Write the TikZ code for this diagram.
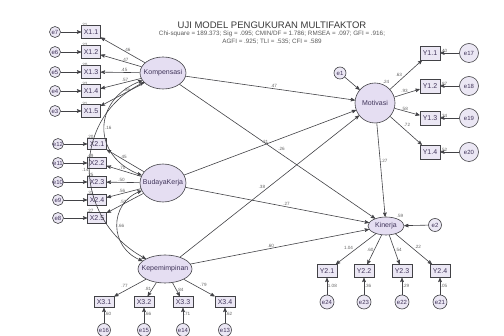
\documentclass[tikz,border=0pt]{standalone}
\usepackage{fontspec}
\setmainfont{Liberation Sans}
\usepackage{tikz}
\usetikzlibrary{arrows,shapes.geometric}
\definecolor{latfill}{RGB}{229,222,242}
\definecolor{obsfill}{RGB}{235,231,244}
\definecolor{linegray}{RGB}{66,66,70}
\definecolor{labgray}{RGB}{100,100,100}
\definecolor{nametext}{RGB}{64,52,90}

\begin{document}
\begin{tikzpicture}[->,>=stealth',semithick,x=1pt,y=-1pt,color=linegray]
  \tikzstyle{every node}=[text=nametext,font=\fontsize{7}{8}\selectfont]
  \tikzstyle{tight}=[execute at begin node={\hbox to 0pt\bgroup\hss},
                     execute at end node={\hss\egroup}]
  \tikzstyle{latent}=[ellipse,draw,fill=latfill,inner sep=0pt,tight]
  \tikzstyle{obs}=[rectangle,draw,fill=obsfill,inner sep=0pt,
                   minimum width=19pt,minimum height=12pt]
  \tikzstyle{err}=[circle,draw,fill=obsfill,inner sep=0pt,tight,
                   minimum size=11pt,font=\fontsize{6}{7}\selectfont]
  \tikzstyle{lb}=[text=labgray,inner sep=.6pt,font=\fontsize{4.6}{5}\selectfont]
  \tikzstyle{rleft}=[lb,pos=1,anchor=south,xshift=3pt,yshift=5pt]
  \tikzstyle{cov}=[<->]

  \useasboundingbox (0,0) rectangle (504,336);

  \node[text=black!78,font=\fontsize{9.5}{11}\selectfont] (title) at (272,25)
       {UJI MODEL PENGUKURAN MULTIFAKTOR};
  \node[text=black!65,font=\fontsize{6.3}{8}\selectfont,align=center] (fit) at (272,38)
       {Chi-square = 189.373; Sig = .095; CMIN/DF = 1.786; RMSEA = .097; GFI = .916;\\
        AGFI = .925; TLI = .535; CFI = .589};

  \node[latent,minimum width=46pt,minimum height=32pt] (Komp)   at (163,73)  {Kompensasi};
  \node[latent,minimum width=46pt,minimum height=38pt] (Budaya) at (163,183) {BudayaKerja};
  \node[latent,minimum width=54pt,minimum height=28pt] (Kepem)  at (165,269) {Kepemimpinan};
  \node[latent,minimum width=40pt,minimum height=40pt] (Mot)    at (375,103) {Motivasi};
  \node[latent,minimum width=36pt,minimum height=18pt] (Kin)    at (386,226) {Kinerja};

  \node[obs,minimum height=13pt] (x11) at (91,32)  {X1.1};
  \node[obs,minimum height=13pt] (x12) at (91,52)  {X1.2};
  \node[obs,minimum height=13pt] (x13) at (91,72)  {X1.3};
  \node[obs,minimum height=13pt] (x14) at (91,91)  {X1.4};
  \node[obs,minimum height=13pt] (x15) at (91,111) {X1.5};
  \node[err] (e7) at (55,32)  {e7};
  \node[err] (e6) at (55,52)  {e6};
  \node[err] (e5) at (55,72)  {e5};
  \node[err] (e4) at (55,91)  {e4};
  \node[err] (e3) at (55,111) {e3};

  \node[obs,minimum height=11pt] (x21) at (97,144) {X2.1};
  \node[obs,minimum height=11pt] (x22) at (97,163) {X2.2};
  \node[obs,minimum height=11pt] (x23) at (97,182) {X2.3};
  \node[obs,minimum height=11pt] (x24) at (97,200) {X2.4};
  \node[obs,minimum height=11pt] (x25) at (97,218) {X2.5};
  \node[err] (e12) at (58,144) {e12};
  \node[err] (e11) at (58,163) {e11};
  \node[err] (e10) at (58,182) {e10};
  \node[err] (e9)  at (58,200) {e9};
  \node[err] (e8)  at (58,218) {e8};

  \node[obs,minimum width=20pt,minimum height=11pt] (x31) at (104,302) {X3.1};
  \node[obs,minimum width=20pt,minimum height=11pt] (x32) at (144,302) {X3.2};
  \node[obs,minimum width=20pt,minimum height=11pt] (x33) at (183,302) {X3.3};
  \node[obs,minimum width=20pt,minimum height=11pt] (x34) at (225,302) {X3.4};
  \node[err,minimum size=13pt] (e16) at (104,330) {e16};
  \node[err,minimum size=13pt] (e15) at (144,330) {e15};
  \node[err,minimum size=13pt] (e14) at (183,330) {e14};
  \node[err,minimum size=13pt] (e13) at (225,330) {e13};

  \node[obs,minimum width=20pt,minimum height=14pt] (y11) at (430,53)  {Y1.1};
  \node[obs,minimum width=20pt,minimum height=14pt] (y12) at (430,86)  {Y1.2};
  \node[obs,minimum width=20pt,minimum height=14pt] (y13) at (430,118) {Y1.3};
  \node[obs,minimum width=20pt,minimum height=14pt] (y14) at (430,152) {Y1.4};
  \node[err,minimum size=19pt] (e17) at (469,53)  {e17};
  \node[err,minimum size=19pt] (e18) at (469,86)  {e18};
  \node[err,minimum size=19pt] (e19) at (469,118) {e19};
  \node[err,minimum size=19pt] (e20) at (469,152) {e20};
  \node[err,minimum size=12pt] (e1)  at (340,73)  {e1};
  \node[err,minimum size=13pt] (e2)  at (435,225) {e2};

  \node[obs,minimum width=20pt,minimum height=13pt] (y21) at (327,271) {Y2.1};
  \node[obs,minimum width=20pt,minimum height=13pt] (y22) at (364,271) {Y2.2};
  \node[obs,minimum width=20pt,minimum height=13pt] (y23) at (402,271) {Y2.3};
  \node[obs,minimum width=20pt,minimum height=13pt] (y24) at (440,271) {Y2.4};
  \node[err,minimum size=14pt] (e24) at (327,302) {e24};
  \node[err,minimum size=14pt] (e23) at (364,302) {e23};
  \node[err,minimum size=14pt] (e22) at (402,302) {e22};
  \node[err,minimum size=14pt] (e21) at (440,302) {e21};

  \node[lb,anchor=south west] (rMot) at (Mot.70) {.24};
  \node[lb,anchor=south,xshift=1pt,yshift=1pt] (rKin) at (Kin.north east) {.59};

  \path (e7) edge node[rleft] {.21} (x11)
        (e6) edge node[rleft] {.22} (x12)
        (e5) edge node[rleft] {.20} (x13)
        (e4) edge node[rleft] {.32} (x14)
        (e3) edge node[rleft] {.31} (x15)
        (Komp) edge node[lb,pos=.4,above] {.46} (x11)
               edge node[lb,pos=.4,above] {.47} (x12)
               edge node[lb,pos=.4,above] {.45} (x13)
               edge node[lb,pos=.4,above] {.57} (x14)
               edge node[lb,pos=.4,above] {.56} (x15);

  \path (e12) edge node[rleft] {.20} (x21)
        (e11) edge node[rleft] {.49} (x22)
        (e10) edge node[rleft] {.25} (x23)
        (e9)  edge node[rleft] {.31} (x24)
        (e8)  edge node[rleft] {.27} (x25)
        (Budaya) edge node[lb,pos=.55,above] {.45} (x21)
                 edge node[lb,pos=.55,above] {.70} (x22)
                 edge node[lb,pos=.55,above] {.50} (x23)
                 edge node[lb,pos=.55,above] {.56} (x24)
                 edge node[lb,pos=.55,above] {.52} (x25);

  \path (Kepem) edge node[lb,pos=.55,above left] {.77} (x31)
                edge node[lb,pos=.5,left] {.81} (x32)
                edge node[lb,pos=.5,right] {.84} (x33)
                edge node[lb,pos=.5,above right] {.79} (x34)
        (e16) edge node[lb,pos=.6,right] {.60} (x31)
        (e15) edge node[lb,pos=.6,right] {.66} (x32)
        (e14) edge node[lb,pos=.6,right] {.71} (x33)
        (e13) edge node[lb,pos=.6,right] {.62} (x34);

  \path (Mot) edge node[lb,pos=.4,above left] {.63} (y11)
              edge node[lb,pos=.4,above] {.93} (y12)
              edge node[lb,pos=.4,above] {.58} (y13)
              edge node[lb,pos=.4,above right] {.72} (y14)
        (e17) edge node[lb,pos=.8,above] {.40} (y11)
        (e18) edge node[lb,pos=.8,above] {.87} (y12)
        (e19) edge node[lb,pos=.8,above] {.34} (y13)
        (e20) edge node[lb,pos=.8,above] {.52} (y14)
        (e1) edge (Mot);

  \path (Kin) edge node[lb,pos=.55,above left] {1.04} (y21)
              edge node[lb,pos=.5,left] {.60} (y22)
              edge node[lb,pos=.5,right] {.54} (y23)
              edge node[lb,pos=.5,above right] {.22} (y24)
        (e24) edge node[lb,pos=.5,right] {1.08} (y21)
        (e23) edge node[lb,pos=.5,right] {.36} (y22)
        (e22) edge node[lb,pos=.5,right] {.29} (y23)
        (e21) edge node[lb,pos=.5,right] {.05} (y24)
        (e2) edge (Kin);

  \path (Komp) edge node[lb,pos=.52,above] {.47} (Mot)
               edge node[lb,pos=.5,above right] {.26} (Kin)
        (Budaya) edge node[lb,pos=.47,above] {.31} (Mot)
                 edge node[lb,pos=.55,above] {.27} (Kin)
        (Kepem) edge node[lb,pos=.48,above left] {.38} (Mot)
                edge node[lb,pos=.45,above] {.60} (Kin)
        (Mot) edge node[lb,pos=.4,right] {.27} (Kin);

  \path (Komp) edge[cov,out=200,in=160,looseness=1.45] node[lb,right] {.16} (Budaya)
        (Budaya) edge[cov,out=200,in=160,looseness=1.3] node[lb,right] {.66} (Kepem)
        (Komp) edge[cov,out=206,in=152,looseness=1.2] node[lb,left] {.14} (Kepem);
\end{tikzpicture}
\end{document}
